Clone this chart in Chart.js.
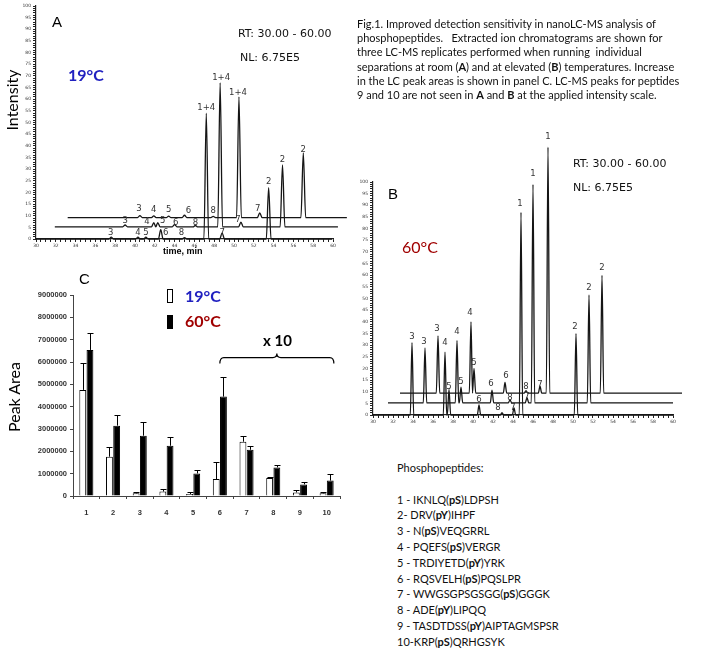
<!DOCTYPE html>
<html>
<head>
<meta charset="utf-8">
<script src="https://cdn.jsdelivr.net/npm/chart.js@4.4.0/dist/chart.umd.min.js"></script>
<style>
    body { margin: 0; background: #fff; }
    #page { position: relative; width: 708px; height: 662px; overflow: hidden; font-family: Lato, sans-serif; color: #000; }
    canvas { position: absolute; }
    .t { position: absolute; white-space: nowrap; line-height: 1; transform: translateY(-50%); }
    .rot { position: absolute; white-space: nowrap; line-height: 1; transform: translate(-50%, -50%) rotate(-90deg); }
    .rt { font-family: "DejaVu Sans", sans-serif; font-size: 11px; color: #111; }
    .panel { font-family: "Liberation Sans", Arial, sans-serif; font-size: 15px; }
    #caption { position: absolute; left: 357px; top: 17px; font-size: 11px; line-height: 14.2px; white-space: nowrap; color: #111; }
    #peptides { position: absolute; left: 397px; top: 460px; font-size: 11px; line-height: 15.8px; white-space: nowrap; color: #111; }
    .sw { position: absolute; width: 4px; height: 12px; border: 1px solid #000; }
</style>
</head>
<body>
<div id="page">
    <canvas id="chartA" width="350" height="262" style="left:0;top:0"></canvas>
    <canvas id="chartB" width="360" height="302" style="left:340px;top:130px"></canvas>
    <canvas id="chartC" width="350" height="265" style="left:0;top:262px"></canvas>

    <!-- panel A texts -->
    <div class="rot" style="left:12px;top:100px;font-size:16px">Intensity</div>
    <div class="t panel" style="left:52px;top:21px">A</div>
    <div class="t" style="left:68px;top:75px;font-size:16px;font-weight:bold;color:#2020c0">19°C</div>
    <div class="t rt" style="left:238px;top:33px">RT: 30.00 - 60.00</div>
    <div class="t rt" style="left:240px;top:57px">NL: 6.75E5</div>
    <div class="t" style="left:163px;top:251px;font:bold 9px 'Liberation Sans', Arial, sans-serif">time, min</div>

    <!-- panel B texts -->
    <div class="t panel" style="left:388px;top:193px">B</div>
    <div class="t" style="left:402px;top:247px;font-size:16px;color:#a00000">60°C</div>
    <div class="t rt" style="left:573px;top:163px">RT: 30.00 - 60.00</div>
    <div class="t rt" style="left:573px;top:187px">NL: 6.75E5</div>

    <!-- panel C texts -->
    <div class="t panel" style="left:79px;top:278px">C</div>
    <div class="rot" style="left:14px;top:397px;font-size:16px">Peak Area</div>
    <div class="sw" style="left:167px;top:289px;background:#fff"></div>
    <div class="t" id="leg19" style="left:185px;top:296px;font-size:16px;font-weight:bold;color:#2020c0"></div>
    <div class="sw" style="left:167px;top:315px;background:#000"></div>
    <div class="t" id="leg60" style="left:185px;top:321px;font-size:16px;font-weight:bold;color:#a00000"></div>
    <div class="t" style="left:263px;top:340px;font-size:15px;font-weight:bold">x 10</div>

    <div id="caption">Fig.1. Improved detection sensitivity in nanoLC-MS analysis of<br>phosphopeptides.&nbsp;&nbsp; Extracted ion chromatograms are shown for<br>three LC-MS replicates performed when running&nbsp; individual<br>separations at room (<b>A</b>) and at elevated (<b>B</b>) temperatures. Increase<br>in the LC peak areas is shown in panel C. LC-MS peaks for peptides<br>9 and 10 are not seen in <b>A</b> and <b>B</b> at the applied intensity scale.</div>

    <div id="peptides"></div>
</div>

<script>
// ---- Panel A (19 °C): three replicate chromatograms, offset on the plot ----
// each peak: [retention time, apex intensity] in plot units
const traceStartA = [30, 31.9, 33.2];
const traceEndA = [59.9, 60.5, 61.4];
const baselineA = [0, 5.2, 9.2];
const peaksA1 = [[37.6, 0.8], [40.3, 0.8], [41.1, 0.8], [42.6, 4], [45.0, 0.6], [47.2, 54], [48.8, 2.6], [53.5, 22]];
const peaksA2 = [[39.0, 6.0], [41.9, 7.0], [42.3, 7.0], [44.0, 6.2], [46.1, 5.8], [48.6, 67], [50.7, 7.2], [54.9, 31.8]];
const peaksA3 = [[40.5, 10.0], [41.9, 9.9], [43.4, 9.8], [45.0, 10.2], [47.9, 9.7], [50.5, 61], [52.6, 11.2], [57.0, 37]];
// peak labels: [time, intensity, text]
const tagsA = [
    [37.55, 2.6, '3'], [40.3, 2.6, '4'], [41.1, 2.6, '5'], [43.1, 2.6, '6'], [44.7, 2.6, '8'],
    [47.2, 56.2, '1+4'], [48.8, 2.6, '7'], [53.5, 24.5, '2'],
    [39.0, 7.7, '3'], [41.2, 7.3, '4'], [42.8, 7.7, '5'], [44.1, 6.9, '6'], [46.1, 6.9, '8'],
    [48.7, 69.1, '1+4'], [50.4, 8.2, '7'], [54.9, 33.9, '2'],
    [40.4, 12.9, '3'], [41.9, 12.4, '4'], [43.4, 12.4, '5'], [45.4, 12.0, '6'], [47.9, 12.0, '8'],
    [50.4, 62.7, '1+4'], [52.4, 12.9, '7'], [57.0, 38.2, '2']
];

// ---- Panel B (60 °C) ----
const traceStartB = [30, 31.5, 32.7];
const traceEndB = [60, 60, 60.9];
const baselineB = [0, 5.2, 9.4];
const peaksB1 = [[33.9, 31], [37.2, 27], [37.6, 11], [40.6, 4.3], [42.9, 1], [44.1, 3], [44.8, 87], [50.3, 35]];
const peaksB2 = [[35.2, 28.8], [38.4, 32], [38.8, 12], [41.9, 10.7], [43.7, 6.5], [45.4, 7.5], [46.0, 99], [51.6, 51.5]];
const peaksB3 = [[36.5, 34], [39.8, 40], [40.1, 20], [43.2, 14], [45.3, 10.5], [46.7, 12.4], [47.5, 115], [52.9, 60]];
const tagsB = [
    [33.9, 33.5, '3'], [37.2, 30.9, '4'], [37.6, 12.0, '5'], [40.6, 6.4, '6'], [42.5, 3.0, '8'],
    [44.0, 3.0, '7'], [44.7, 90.6, '1'], [50.2, 37.8, '2'],
    [35.1, 31.3, '3'], [38.4, 35.6, '4'], [38.8, 14.2, '5'], [41.8, 13.3, '6'], [43.7, 7.3, '8'],
    [45.4, 7.7, '7'], [46.0, 103.4, '1'], [51.6, 54.5, '2'],
    [36.4, 36.9, '3'], [39.7, 43.8, '4'], [40.1, 22.3, '5'], [43.3, 16.7, '6'], [45.3, 12.0, '8'],
    [46.7, 12.9, '7'], [47.5, 119.3, '1'], [52.9, 63.1, '2']
];

// ---- Panel C: LC peak areas ----
const peptideIds = ['1', '2', '3', '4', '5', '6', '7', '8', '9', '10'];
const seriesNames = ['19°C', '60°C'];
const area19 = [4750000, 1760000, 120000, 200000, 90000, 760000, 2430000, 810000, 160000, 120000];
const sd19 = [1190000, 420000, 70000, 100000, 100000, 780000, 260000, 60000, 110000, 60000];
const area60 = [6540000, 3150000, 2700000, 2250000, 1010000, 4450000, 2070000, 1280000, 520000, 690000];
const sd60 = [740000, 480000, 630000, 410000, 150000, 890000, 170000, 90000, 120000, 300000];

const peptides = [
    ['1 - IKNLQ(', 'pS', ')LDPSH'],
    ['2- DRV(', 'pY', ')IHPF'],
    ['3 - N(', 'pS', ')VEQGRRL'],
    ['4 - PQEFS(', 'pS', ')VERGR'],
    ['5 - TRDIYETD(', 'pY', ')YRK'],
    ['6 - RQSVELH(', 'pS', ')PQSLPR'],
    ['7 - WWGSGPSGSGG(', 'pS', ')GGGK'],
    ['8 - ADE(', 'pY', ')LIPQQ'],
    ['9 - TASDTDSS(', 'pY', ')AIPTAGMSPSR'],
    ['10-KRP(', 'pS', ')QRHGSYK']
];

// turn a peak table into a line: flat baseline with a narrow peak at each entry
function buildTrace(start, end, base, peaks, hw) {
    const pts = [{ x: start, y: base }];
    peaks.forEach(([t, h], i) => {
        const prev = peaks[i - 1], next = peaks[i + 1];
        const left = prev ? Math.max(t - hw, (prev[0] + t) / 2) : t - hw;
        const right = next ? Math.min(t + hw, (t + next[0]) / 2) : t + hw;
        if (left > pts[pts.length - 1].x) pts.push({ x: left, y: base });
        pts.push({ x: t, y: h });
        pts.push({ x: right, y: base });
    });
    pts.push({ x: end, y: base });
    return pts;
}

function tagPlugin(tags, font) {
    return {
        id: 'peakTags',
        afterDatasetsDraw(chart) {
            const { ctx, scales: { x, y } } = chart;
            ctx.save();
            ctx.font = font;
            ctx.fillStyle = '#333';
            ctx.textAlign = 'center';
            ctx.textBaseline = 'middle';
            tags.forEach(([t, v, s]) => ctx.fillText(s, x.getPixelForValue(t), y.getPixelForValue(v)));
            ctx.restore();
        }
    };
}

function traceDataset(points) {
    return {
        data: points,
        borderColor: '#151515',
        borderWidth: 1.3,
        pointRadius: 0,
        cubicInterpolationMode: 'monotone',
        capBezierPoints: false,
        clip: false
    };
}

function chromOptions(yWidth, padding) {
    const tickFont = { family: 'DejaVu Sans', size: 4.5 };
    return {
        responsive: false,
        animation: false,
        layout: { padding },
        plugins: { legend: { display: false }, tooltip: { enabled: false } },
        scales: {
            x: {
                type: 'linear', min: 30, max: 60,
                ticks: {
                    stepSize: 0.5, autoSkip: false, maxRotation: 0, padding: 1,
                    font: tickFont, color: '#333',
                    callback: v => (v % 2 === 0 ? String(v) : '')
                },
                grid: { drawOnChartArea: false, tickLength: 3, color: '#222' },
                border: { color: '#222', width: 1.2 },
                afterFit: s => { s.height = 10; }
            },
            y: {
                type: 'linear', min: 0, max: 100,
                ticks: {
                    stepSize: 1, autoSkip: false, padding: 2,
                    font: tickFont, color: '#333',
                    callback: v => (v % 5 === 0 ? String(v) : '')
                },
                grid: { drawOnChartArea: false, tickLength: 3, color: '#222' },
                border: { color: '#222', width: 1.2 },
                afterFit: s => { s.width = yWidth; }
            }
        }
    };
}

// Panel A
new Chart(document.getElementById('chartA'), {
    type: 'line',
    data: {
        datasets: [peaksA1, peaksA2, peaksA3].map((p, i) =>
            traceDataset(buildTrace(traceStartA[i], traceEndA[i], baselineA[i], p, 0.24)))
    },
    options: chromOptions(36, { left: 0, right: 17, top: 6, bottom: 13 }),
    plugins: [tagPlugin(tagsA, '8.5px "DejaVu Sans"')]
});

// Panel B (canvas taller than the plot so the tallest peak can rise above the axis)
new Chart(document.getElementById('chartB'), {
    type: 'line',
    data: {
        datasets: [peaksB1, peaksB2, peaksB3].map((p, i) =>
            traceDataset(buildTrace(traceStartB[i], traceEndB[i], baselineB[i], p, 0.17)))
    },
    options: chromOptions(33, { left: 0, right: 27, top: 52, bottom: 7 }),
    plugins: [tagPlugin(tagsB, '8.5px "DejaVu Sans"')]
});

// Panel C: error bars (mean + SD) and the "x 10" brace
const errorBars = {
    id: 'errorBars',
    afterDatasetsDraw(chart) {
        const { ctx, scales: { y } } = chart;
        ctx.save();
        ctx.strokeStyle = '#000';
        ctx.lineWidth = 1;
        [sd19, sd60].forEach((sd, di) => {
            const values = chart.data.datasets[di].data;
            chart.getDatasetMeta(di).data.forEach((bar, i) => {
                const top = Math.round(y.getPixelForValue(values[i] + sd[i])) + 0.5;
                const x = Math.round(bar.x) + 0.5;
                ctx.beginPath();
                ctx.moveTo(x, bar.y);
                ctx.lineTo(x, top);
                ctx.moveTo(x - 3, top);
                ctx.lineTo(x + 3, top);
                ctx.stroke();
            });
        });
        ctx.restore();
    }
};

const brace = {
    id: 'brace',
    afterDraw(chart) {
        const { ctx, scales: { x, y } } = chart;
        const cw = x.getPixelForValue(1) - x.getPixelForValue(0);
        const x1 = x.getPixelForValue(5);
        const x2 = x.getPixelForValue(9) + cw * 0.27;
        const xm = (x1 + x2) / 2;
        const yb = y.getPixelForValue(6200000);
        ctx.save();
        ctx.strokeStyle = '#000';
        ctx.lineWidth = 1.2;
        ctx.beginPath();
        ctx.moveTo(x1, yb + 6);
        ctx.quadraticCurveTo(x1, yb, x1 + 4, yb);
        ctx.lineTo(xm - 4, yb);
        ctx.quadraticCurveTo(xm, yb, xm, yb - 4);
        ctx.quadraticCurveTo(xm, yb, xm + 4, yb);
        ctx.lineTo(x2 - 4, yb);
        ctx.quadraticCurveTo(x2, yb, x2, yb + 6);
        ctx.stroke();
        ctx.restore();
    }
};

const axisFontC = { family: 'Liberation Sans', size: 7.5, weight: 'bold' };
new Chart(document.getElementById('chartC'), {
    type: 'bar',
    data: {
        labels: peptideIds,
        datasets: [
            { label: seriesNames[0], data: area19, backgroundColor: '#fff', borderColor: '#000', borderWidth: 1 },
            { label: seriesNames[1], data: area60, backgroundColor: '#000', borderColor: '#000', borderWidth: 1 }
        ]
    },
    options: {
        responsive: false,
        animation: false,
        layout: { padding: { left: 0, right: 10, top: 33, bottom: 6 } },
        datasets: { bar: { categoryPercentage: 0.54, barPercentage: 0.95 } },
        plugins: { legend: { display: false }, tooltip: { enabled: false } },
        scales: {
            x: {
                ticks: { font: axisFontC, color: '#333', padding: 9, maxRotation: 0 },
                grid: { drawOnChartArea: false, tickLength: 3, color: '#444' },
                border: { color: '#444' },
                afterFit: s => { s.height = 25; }
            },
            y: {
                min: 0, max: 9000000,
                ticks: { stepSize: 1000000, font: axisFontC, color: '#333', padding: 3, callback: v => String(v) },
                grid: { drawOnChartArea: false, tickLength: 3, color: '#444' },
                border: { color: '#444' },
                afterFit: s => { s.width = 73; }
            }
        }
    },
    plugins: [errorBars, brace]
});

document.getElementById('leg19').textContent = seriesNames[0];
document.getElementById('leg60').textContent = seriesNames[1];

document.getElementById('peptides').innerHTML = 'Phosphopeptides:<br><br>' +
    peptides.map(([a, p, b]) => `${a}<b>${p}</b>${b}`).join('<br>');
</script>
</body>
</html>
